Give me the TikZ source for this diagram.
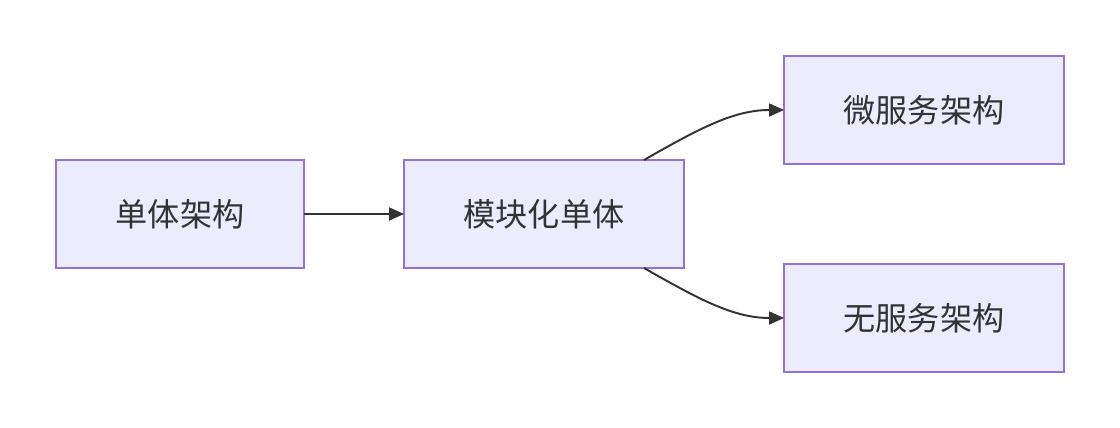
\documentclass[tikz,border=0pt]{standalone}
\usepackage{fontspec}
\setmainfont{Noto Sans CJK SC}
\usetikzlibrary{arrows.meta,positioning}
\definecolor{archfill}{HTML}{ECECFF}
\definecolor{archline}{HTML}{9370DB}
\definecolor{archink}{HTML}{333333}

\begin{document}
\begin{tikzpicture}[x=.02cm,y=.02cm,font=\fontsize{18.3}{22}\selectfont,
    box/.style={draw=archline,fill=archfill,line width=1.1pt,text=archink,
      minimum height=2.16cm,inner sep=0pt,outer sep=0pt},
    arr/.style={draw=archink,line width=1.1pt,-{Triangle[length=.3cm,width=.26cm]}}]
        \useasboundingbox (0,0) rectangle (1120,-428);

        \node[box,minimum width=4.96cm] (mono) at (180,-214) {单体架构};
        \node[box,minimum width=5.6cm] (modular) at (544,-214) {模块化单体};
        \node[box,minimum width=5.6cm] (micro) at (924,-110) {微服务架构};
        \node[box,minimum width=5.6cm] (serverless) at (924,-318) {无服务架构};

        \draw[arr] (mono.east) -- (modular.west);
        \draw[arr] ([xshift=2cm]modular.north) .. controls +(56,32) and +(-50,0) .. (micro.west);
        \draw[arr] ([xshift=2cm]modular.south) .. controls +(56,-32) and +(-50,0) .. (serverless.west);
      \end{tikzpicture}
\end{document}
